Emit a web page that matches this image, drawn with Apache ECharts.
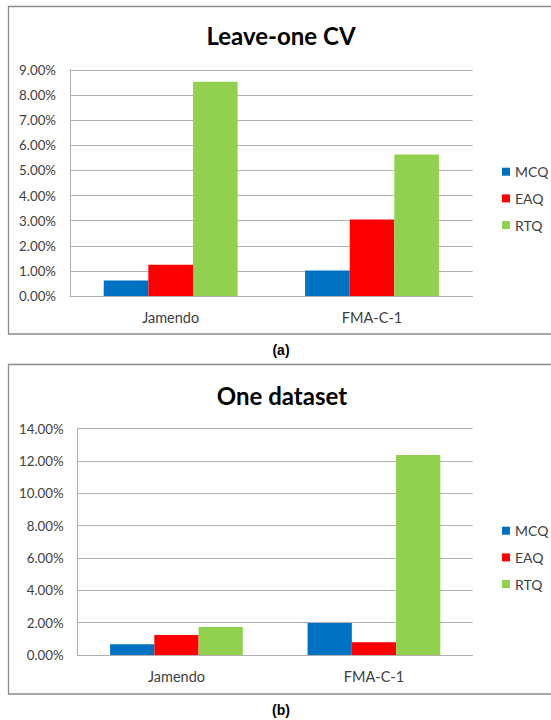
<!DOCTYPE html>
<html>
<head>
<meta charset="utf-8">
<script src="https://cdn.jsdelivr.net/npm/echarts@6/dist/echarts.min.js"></script>
<style>
  html, body { margin: 0; padding: 0; background: #ffffff; }
  #chart { width: 551px; height: 720px; }
</style>
</head>
<body>
<div id="chart"></div>
<script>
// Categories and series names shared by both panels
const categories = ['Jamendo', 'FMA-C-1'];
const seriesNames = ['MCQ', 'EAQ', 'RTQ'];
const seriesColors = ['#0070C0', '#FF0000', '#92D050'];

// Panel (a): Leave-one CV, values in percent
const leaveOneMCQ = [0.62, 1.02];
const leaveOneEAQ = [1.24, 3.05];
const leaveOneRTQ = [8.53, 5.63];

// Panel (b): One dataset, values in percent
const oneDatasetMCQ = [0.66, 1.98];
const oneDatasetEAQ = [1.24, 0.79];
const oneDatasetRTQ = [1.73, 12.38];

// Y axis ranges (percent)
const leaveOneAxis = { min: 0, max: 9, interval: 1 };
const oneDatasetAxis = { min: 0, max: 14, interval: 2 };

const FONT = 'Lato, "Open Sans", sans-serif';
const GRID_GRAY = '#b0b0b0';
const LABEL_COLOR = '#404040';

const pct = v => v.toFixed(2) + '%';

function xAxisFor(gridIndex) {
  return {
    type: 'category', gridIndex, data: categories,
    axisLine: { lineStyle: { color: GRID_GRAY, width: 1 } },
    axisTick: { show: false },
    axisLabel: { color: LABEL_COLOR, fontFamily: FONT, fontSize: 14.5, margin: 14 }
  };
}
function yAxisFor(gridIndex, range) {
  return {
    type: 'value', gridIndex, min: range.min, max: range.max, interval: range.interval,
    axisLine: { show: true, lineStyle: { color: GRID_GRAY, width: 1 } },
    axisTick: { show: false },
    splitLine: { lineStyle: { color: GRID_GRAY, width: 1 } },
    axisLabel: { color: LABEL_COLOR, fontFamily: FONT, fontSize: 13.3, margin: 14, formatter: pct }
  };
}
function barSeries(name, data, idx, gap, color) {
  return {
    name, type: 'bar', data, xAxisIndex: idx, yAxisIndex: idx,
    barGap: '0%', barCategoryGap: gap,
    itemStyle: { color }
  };
}
function legendFor(top) {
  return {
    orient: 'vertical', left: 497, top,
    data: seriesNames, icon: 'rect', itemWidth: 8, itemHeight: 8, itemGap: 10.7,
    textStyle: { color: LABEL_COLOR, fontFamily: FONT, fontSize: 14, lineHeight: 16 },
    selectedMode: false
  };
}

const chart = echarts.init(document.getElementById('chart'), null, { renderer: 'svg' });

const panelA = [leaveOneMCQ, leaveOneEAQ, leaveOneRTQ];
const panelB = [oneDatasetMCQ, oneDatasetEAQ, oneDatasetRTQ];

chart.setOption({
  backgroundColor: '#ffffff',
  animation: false,
  grid: [
    { left: 70, right: 78.3, top: 70, bottom: 424 },
    { left: 77.7, right: 78.3, top: 428.7, bottom: 65 }
  ],
  xAxis: [xAxisFor(0), xAxisFor(1)],
  yAxis: [yAxisFor(0, leaveOneAxis), yAxisFor(1, oneDatasetAxis)],
  legend: [legendFor(158.7), legendFor(517.7)],
  series: [
    ...seriesNames.map((n, i) => barSeries(n, panelA[i], 0, '33.5%', seriesColors[i])),
    ...seriesNames.map((n, i) => barSeries(n, panelB[i], 1, '32.8%', seriesColors[i]))
  ],
  graphic: [
    { type: 'rect', shape: { x: 8.5, y: 6.5, width: 560, height: 327.5 },
      style: { fill: 'none', stroke: '#8c8c8c', lineWidth: 1.3 }, silent: true },
    { type: 'rect', shape: { x: 8.5, y: 364.5, width: 560, height: 329.5 },
      style: { fill: 'none', stroke: '#8c8c8c', lineWidth: 1.3 }, silent: true },
    { type: 'text', x: 281, y: 35.5,
      style: { text: 'Leave-one CV', fill: '#000', font: 'bold 24px ' + FONT, align: 'center', verticalAlign: 'middle' } },
    { type: 'text', x: 282, y: 395.5,
      style: { text: 'One dataset', fill: '#000', font: 'bold 24px ' + FONT, align: 'center', verticalAlign: 'middle' } },
    { type: 'text', x: 281, y: 350,
      style: { text: '(a)', fill: '#000', font: 'bold 14px "Liberation Sans", Arial, sans-serif', align: 'center', verticalAlign: 'middle' } },
    { type: 'text', x: 281, y: 710,
      style: { text: '(b)', fill: '#000', font: 'bold 14px "Liberation Sans", Arial, sans-serif', align: 'center', verticalAlign: 'middle' } }
  ]
});
</script>
</body>
</html>
